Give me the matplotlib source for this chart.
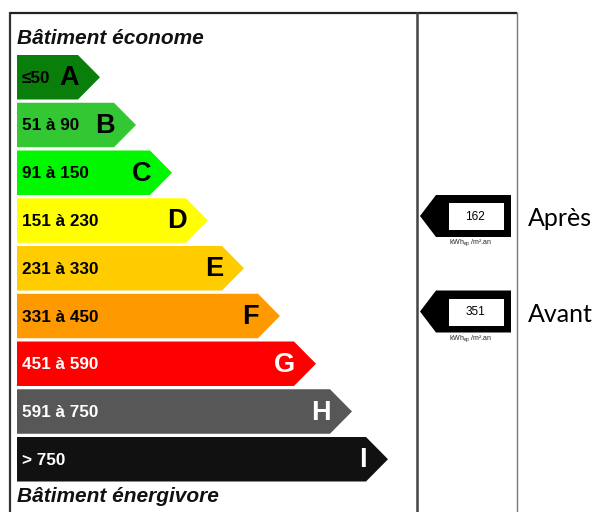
import numpy as np
import matplotlib
matplotlib.use("Agg")
import matplotlib.pyplot as plt
from matplotlib.patches import Polygon, Rectangle

# ---- data ----
classes = ['A', 'B', 'C', 'D', 'E', 'F', 'G', 'H', 'I']
ranges = ['≤50', '51 à 90', '91 à 150', '151 à 230', '231 à 330',
          '331 à 450', '451 à 590', '591 à 750', '> 750']
upper_bounds = [50, 90, 150, 230, 330, 450, 590, 750]
bar_colors = ['#0a7e0a', '#33c833', '#00f700', '#ffff00', '#ffcc00',
              '#ff9900', '#ff0000', '#575757', '#111111']
text_colors = ['black'] * 6 + ['white'] * 3
indicator_labels = ['Après', 'Avant']
indicator_values = [162, 351]
title_top = 'Bâtiment économe'
title_bottom = 'Bâtiment énergivore'
unit = 'kWh$_{\\mathregular{ep}}$ /m².an'

# ---- layout ----
W, H = 594, 512
fig = plt.figure(figsize=(W / 100, H / 100), dpi=100)
ax = fig.add_axes([0, 0, 1, 1])
ax.set_xlim(0, W)
ax.set_ylim(H, 0)
ax.axis('off')

bar_left = 17
bar_top0 = 55
bar_pitch = 47.75
bar_h = 44.5
tip0 = 100
tip_step = 36
tip_depth = 22

# frame lines
ax.plot([10, 10], [12, H], color='#333333', lw=1.6, solid_capstyle='butt')
ax.plot([10, 517], [12.5, 12.5], color='#222222', lw=1.6, solid_capstyle='butt')
ax.plot([417, 417], [12, H], color='#444444', lw=1.8, solid_capstyle='butt')
ax.plot([516.5, 516.5], [12, H], color='#777777', lw=1.0, solid_capstyle='butt')

ax.text(17, 39, title_top, fontsize=15, fontweight='bold', fontstyle='italic',
        family='Liberation Sans', va='center', ha='left', color='#111111')
ax.text(17, 496, title_bottom, fontsize=15, fontweight='bold', fontstyle='italic',
        family='Liberation Sans', va='center', ha='left', color='#111111')

centers = []
for i, (cl, rg, col, tc) in enumerate(zip(classes, ranges, bar_colors, text_colors)):
    top = bar_top0 + i * bar_pitch
    bot = top + bar_h
    mid = (top + bot) / 2
    centers.append(mid)
    tip = tip0 + i * tip_step
    rect_end = tip - tip_depth
    poly = Polygon([(bar_left, top), (rect_end, top), (tip, mid),
                    (rect_end, bot), (bar_left, bot)], closed=True,
                   facecolor=col, edgecolor='none')
    ax.add_patch(poly)
    ax.text(22, mid + 1, rg, fontsize=12.3, fontweight='bold',
            family=['Liberation Sans', 'DejaVu Sans'], color=tc, va='center', ha='left')
    ax.text(rect_end + 1, mid + 1, cl, fontsize=19.5, fontweight='bold',
            family='Liberation Sans', color=tc, va='center', ha='right')

# indicators
for lab, val in zip(indicator_labels, indicator_values):
    idx = int(np.searchsorted(upper_bounds, val, side='left'))
    c = centers[idx] - 4.5
    top, bot = c - 21, c + 21
    ax.add_patch(Polygon([(420, c), (436, top), (511, top), (511, bot), (436, bot)],
                         closed=True, facecolor='black', edgecolor='none'))
    ax.add_patch(Rectangle((449, top + 8), 55, 27, facecolor='white', edgecolor='none'))
    ax.text(475, top + 21.5, str(val), fontsize=8.5, family='Liberation Sans',
            ha='center', va='center', color='black')
    ax.text(471, bot + 6, unit, fontsize=5, family='Liberation Sans',
            ha='center', va='center', color='#222222')
    ax.text(528, c + 3, lab, fontsize=18, family='Lato', fontweight='normal',
            ha='left', va='center', color='black')

fig.savefig('out.png', dpi=100, facecolor='white')
